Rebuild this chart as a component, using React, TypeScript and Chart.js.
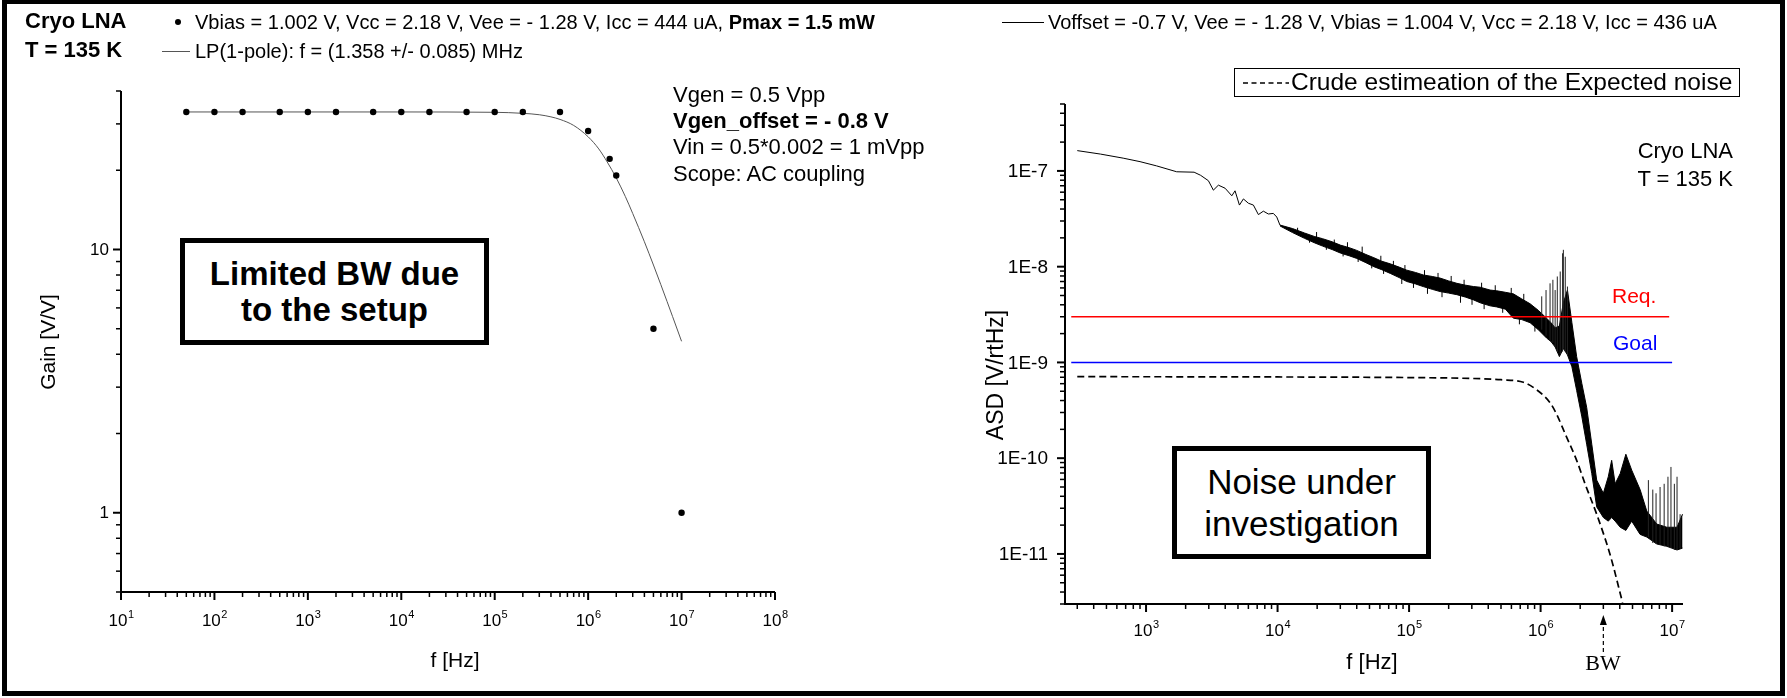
import React, { useEffect, useRef } from "react";
import { Chart, registerables } from "chart.js";

Chart.register(...registerables);

const W = 1787;
const H = 698;
const SANS = '"Liberation Sans", Arial, Helvetica, sans-serif';
const SERIF = '"Liberation Serif", "Times New Roman", serif';

// ---------------- Left chart (gain) ----------------
const gainFreq = [50, 100, 200, 500, 1e3, 2e3, 5e3, 1e4, 2e4, 5e4, 1e5, 2e5, 5e5, 1e6, 1.7e6, 2e6, 5e6, 1e7];
const gainVal = [33.3, 33.3, 33.3, 33.3, 33.3, 33.3, 33.3, 33.3, 33.3, 33.3, 33.3, 33.3, 33.3, 28.2, 22.1, 19.1, 5.0, 1.0];
const fitFreq = [50, 1e3, 1e4, 1e5, 2e5, 3e5, 4e5, 5e5, 7e5, 1e6, 1.3e6, 1.6e6, 2e6, 2.5e6, 3e6, 4e6, 5e6, 6e6, 7e6, 8e6, 1e7];
const fitVal = [33.3, 33.3, 33.3, 33.2, 32.9, 32.5, 31.9, 31.2, 29.6, 26.8, 24.1, 21.5, 18.7, 15.9, 13.7, 10.7, 8.73, 7.35, 6.34, 5.57, 4.48];
const gainXExps = [1, 2, 3, 4, 5, 6, 7, 8];
const gainYLabels = ["1", "10"];
const gainYLabelVals = [1, 10];

// ---------------- Right chart (noise ASD) ----------------
const noiseLowF = [300, 450, 670, 900, 1200, 1710, 2320, 2600, 2980, 3250, 3550, 3990, 4490, 4750, 5130, 5500, 6000, 6550, 7150, 7800, 8510, 9290, 9860, 10450];
const noiseLowV = [1.63e-7, 1.5e-7, 1.36e-7, 1.25e-7, 1.13e-7, 9.8e-8, 9.7e-8, 9.0e-8, 7.9e-8, 6.3e-8, 7.1e-8, 6.6e-8, 5.5e-8, 6.2e-8, 4.4e-8, 5.1e-8, 4.6e-8, 4.4e-8, 3.5e-8, 3.8e-8, 3.55e-8, 3.6e-8, 3.3e-8, 2.7e-8];

const bandFreq = [10.45e3, 13e3, 16e3, 19e3, 22e3, 26e3, 30e3, 35e3, 40e3, 47e3, 54e3, 62e3, 72e3, 84e3, 96e3, 112e3, 128e3, 150e3, 172e3, 200e3, 231e3, 270e3, 309e3, 347e3, 413e3, 464e3, 540e3, 621e3, 720e3, 832e3, 960e3, 1.11e6, 1.2e6, 1.29e6, 1.39e6, 1.49e6, 1.6e6, 1.73e6, 1.88e6, 2.06e6, 2.24e6, 2.45e6, 2.67e6, 3.0e6, 3.27e6, 3.47e6, 3.69e6, 4.03e6, 4.45e6, 4.93e6, 5.71e6, 6.42e6, 7.65e6, 9.12e6, 10.9e6, 12.0e6];
const bandUpper = [2.72e-8, 2.5e-8, 2.25e-8, 2.07e-8, 1.96e-8, 1.82e-8, 1.68e-8, 1.58e-8, 1.48e-8, 1.34e-8, 1.24e-8, 1.14e-8, 1.07e-8, 9.9e-9, 9.2e-9, 8.7e-9, 8.2e-9, 7.9e-9, 7.6e-9, 7.1e-9, 6.7e-9, 6.4e-9, 6.2e-9, 6.1e-9, 5.7e-9, 5.6e-9, 5.4e-9, 5.2e-9, 4.6e-9, 4.1e-9, 3.5e-9, 2.9e-9, 2.6e-9, 2.3e-9, 2.4e-9, 4.2e-9, 5.7e-9, 2.6e-9, 1.15e-9, 6.0e-10, 3.4e-10, 1.4e-10, 5.9e-11, 4.3e-11, 6.4e-11, 9.5e-11, 5.4e-11, 6.9e-11, 1.1e-10, 7.5e-11, 4.7e-11, 2.8e-11, 2.05e-11, 1.9e-11, 1.9e-11, 2.6e-11];
const bandLower = [2.66e-8, 2.27e-8, 1.98e-8, 1.78e-8, 1.64e-8, 1.51e-8, 1.39e-8, 1.3e-8, 1.22e-8, 1.1e-8, 1.0e-8, 9.3e-9, 8.5e-9, 7.7e-9, 7.0e-9, 6.6e-9, 6.2e-9, 5.8e-9, 5.5e-9, 5.3e-9, 5.1e-9, 4.8e-9, 4.5e-9, 4.2e-9, 3.9e-9, 3.8e-9, 3.6e-9, 2.9e-9, 2.8e-9, 2.6e-9, 2.2e-9, 1.8e-9, 1.65e-9, 1.45e-9, 1.15e-9, 1.4e-9, 1.2e-9, 9.0e-10, 5.1e-10, 2.7e-10, 1.4e-10, 6.9e-11, 3.1e-11, 2.4e-11, 2.2e-11, 2.4e-11, 2.2e-11, 1.9e-11, 1.76e-11, 2.2e-11, 1.6e-11, 1.5e-11, 1.27e-11, 1.2e-11, 1.1e-11, 1.15e-11];

// short noise marks sticking out of the band edges (irregular, as seen in the trace)
const grassFreq = [14.2e3, 17.5e3, 19.8e3, 23.5e3, 27e3, 31.5e3, 34e3, 41e3, 44e3, 52e3, 61e3, 64e3, 76e3, 88e3, 93e3, 108e3, 131e3, 138e3, 166e3, 178e3, 209e3, 246e3, 262e3, 301e3, 356e3, 372e3, 452e3, 515e3, 598e3, 690e3, 745e3, 905e3];
const grassLo = [2.2e-8, 1.78e-8, 1.9e-8, 1.5e-8, 1.6e-8, 1.28e-8, 1.45e-8, 1.12e-8, 1.3e-8, 9.6e-9, 1.05e-8, 8.4e-9, 9.5e-9, 6.6e-9, 8.5e-9, 6.0e-9, 7.5e-9, 5.2e-9, 7.0e-9, 4.8e-9, 6.4e-9, 4.2e-9, 6.0e-9, 4.0e-9, 5.5e-9, 3.6e-9, 5.1e-9, 3.3e-9, 4.8e-9, 2.5e-9, 4.2e-9, 2.1e-9];
const grassHi = [2.55e-8, 2.0e-8, 2.3e-8, 1.7e-8, 1.92e-8, 1.5e-8, 1.8e-8, 1.3e-8, 1.62e-8, 1.15e-8, 1.3e-8, 1.0e-8, 1.15e-8, 8.5e-9, 1.04e-8, 7.5e-9, 9.2e-9, 7.0e-9, 8.6e-9, 6.0e-9, 8.0e-9, 5.6e-9, 7.3e-9, 5.0e-9, 6.8e-9, 4.6e-9, 6.4e-9, 4.2e-9, 6.0e-9, 3.2e-9, 5.2e-9, 2.8e-9];

const spikeFreq = [1.02e6, 1.10e6, 1.18e6, 1.24e6, 1.29e6, 1.34e6, 1.41e6, 1.47e6, 1.49e6, 1.54e6, 1.60e6, 6.6e6, 7.13e6, 7.55e6, 8.1e6, 8.7e6, 9.3e6, 9.8e6, 10.4e6, 10.9e6, 11.5e6];
const spikeTop = [4.9e-9, 5.7e-9, 6.7e-9, 7.3e-9, 5.7e-9, 7.9e-9, 8.9e-9, 1.38e-8, 1.5e-8, 1.27e-8, 6.2e-9, 5.9e-11, 4.7e-11, 4.3e-11, 5.0e-11, 5.4e-11, 6.4e-11, 8.1e-11, 5.4e-11, 6.4e-11, 2.6e-11];
const spikeBase = [2.2e-9, 1.9e-9, 1.7e-9, 1.6e-9, 1.45e-9, 1.3e-9, 1.2e-9, 1.3e-9, 1.4e-9, 1.3e-9, 1.2e-9, 1.5e-11, 1.3e-11, 1.27e-11, 1.25e-11, 1.2e-11, 1.2e-11, 1.15e-11, 1.1e-11, 1.1e-11, 1.15e-11];

const expF = [300, 1e4, 1e5, 3e5, 5e5, 7.4e5, 9.3e5, 1.18e6, 1.32e6, 1.55e6, 1.88e6, 2.2e6, 2.67e6, 3.4e6, 4.2e6];
const expV = [7.1e-10, 7.05e-10, 6.95e-10, 6.8e-10, 6.6e-10, 6.2e-10, 5.2e-10, 3.8e-10, 2.9e-10, 1.75e-10, 9.5e-11, 5.2e-11, 2.6e-11, 9.5e-12, 3.1e-12];

const reqF = [270, 9.5e6];
const reqV = [3e-9, 3e-9];
const goalF = [270, 1.0e7];
const goalV = [1e-9, 1e-9];

const asdXExps = [3, 4, 5, 6, 7];
const asdYLabels = ["1E-7", "1E-8", "1E-9", "1E-10", "1E-11"];
const asdYLabelVals = [1e-7, 1e-8, 1e-9, 1e-10, 1e-11];
const bwFreq = 3e6;

const pts = (xs: number[], ys: number[]) => xs.map((x, i) => ({ x, y: ys[i] }));
const segs = (xs: number[], a: number[], b: number[]) => {
  const out: any[] = [];
  xs.forEach((x, i) => out.push({ x, y: a[i] }, { x, y: b[i] }, { x, y: null }));
  return out;
};

const axesPlugin = {
  id: "logAxes",
  afterDraw(chart: any, _args: any, o: any) {
    const { ctx, chartArea: a } = chart;
    const xs = chart.scales.x;
    const ys = chart.scales.y;
    ctx.save();
    ctx.strokeStyle = "#000";
    ctx.fillStyle = "#000";
    const each = (min: number, max: number, fn: (v: number, m: number) => void) => {
      const e0 = Math.floor(Math.log10(min));
      const e1 = Math.ceil(Math.log10(max));
      for (let e = e0; e <= e1; e++) {
        for (let m = 1; m <= 9; m++) {
          const v = Number(`${m}e${e}`);
          if (v < min * 0.9999 || v > max * 1.0001) continue;
          fn(v, m);
        }
      }
    };
    each(xs.min, xs.max, (v, m) => {
      const px = xs.getPixelForValue(v);
      ctx.lineWidth = m === 1 ? 2 : 1.5;
      ctx.beginPath();
      ctx.moveTo(px, a.bottom);
      ctx.lineTo(px, a.bottom + (m === 1 ? o.major : o.minor));
      ctx.stroke();
    });
    each(ys.min, ys.max, (v, m) => {
      const py = ys.getPixelForValue(v);
      ctx.lineWidth = m === 1 ? 2 : 1.5;
      ctx.beginPath();
      ctx.moveTo(a.left, py);
      ctx.lineTo(a.left - (m === 1 ? o.major : o.minor), py);
      ctx.stroke();
    });
    ctx.lineWidth = 2;
    ctx.beginPath();
    ctx.moveTo(a.left, a.top);
    ctx.lineTo(a.left, a.bottom);
    ctx.lineTo(a.right, a.bottom);
    ctx.stroke();
    ctx.textBaseline = "alphabetic";
    ctx.textAlign = "left";
    o.xExps.forEach((e: number) => {
      const px = xs.getPixelForValue(Number(`1e${e}`));
      ctx.font = `${o.xFont}px ${SANS}`;
      const w1 = ctx.measureText("10").width;
      ctx.font = `${o.supFont}px ${SANS}`;
      const w2 = ctx.measureText(String(e)).width;
      const x0 = px - (w1 + w2) / 2;
      ctx.font = `${o.xFont}px ${SANS}`;
      ctx.fillText("10", x0, o.xBase);
      ctx.font = `${o.supFont}px ${SANS}`;
      ctx.fillText(String(e), x0 + w1 + 0.5, o.xBase - o.xFont * 0.45);
    });
    ctx.textAlign = "right";
    ctx.textBaseline = "middle";
    ctx.font = `${o.yFont}px ${SANS}`;
    o.yVals.forEach((v: number, i: number) => {
      ctx.fillText(o.yLabels[i], a.left - o.yGap, ys.getPixelForValue(v) + 1);
    });
    if (o.arrow) {
      const px = xs.getPixelForValue(o.arrow.f);
      ctx.lineWidth = 1.2;
      ctx.setLineDash([4, 3]);
      ctx.beginPath();
      ctx.moveTo(px, o.arrow.y1);
      ctx.lineTo(px, o.arrow.y2 + 8);
      ctx.stroke();
      ctx.setLineDash([]);
      ctx.beginPath();
      ctx.moveTo(px, o.arrow.y2);
      ctx.lineTo(px - 3.5, o.arrow.y2 + 10);
      ctx.lineTo(px + 3.5, o.arrow.y2 + 10);
      ctx.closePath();
      ctx.fill();
    }
    ctx.restore();
  },
};

function baseScales(xmin: number, xmax: number, ymin: number, ymax: number, yw: number, xh: number) {
  return {
    x: {
      type: "logarithmic",
      min: xmin,
      max: xmax,
      grid: { display: false },
      border: { display: false },
      ticks: { display: false },
      afterFit: (s: any) => {
        s.height = xh;
      },
    },
    y: {
      type: "logarithmic",
      min: ymin,
      max: ymax,
      grid: { display: false },
      border: { display: false },
      ticks: { display: false },
      afterFit: (s: any) => {
        s.width = yw;
      },
    },
  };
}

const T = ({ x, y, size, bold, color, align, family, children }: any) => {
  const tr = align === "right" ? "translateX(-100%)" : align === "center" ? "translateX(-50%)" : "none";
  return (
    <div
      style={{
        position: "absolute",
        left: x,
        top: y - 0.846 * size,
        fontSize: size,
        lineHeight: `${size}px`,
        fontFamily: family || SANS,
        fontWeight: bold ? "bold" : "normal",
        color: color || "#000",
        whiteSpace: "nowrap",
        transform: tr,
      }}
    >
      {children}
    </div>
  );
};

export default function App() {
  const leftRef = useRef<HTMLCanvasElement>(null);
  const rightRef = useRef<HTMLCanvasElement>(null);

  useEffect(() => {
    const left = new Chart(leftRef.current as HTMLCanvasElement, {
      type: "scatter",
      data: {
        datasets: [
          {
            data: pts(gainFreq, gainVal),
            showLine: false,
            pointRadius: 3.2,
            pointBackgroundColor: "#000",
            pointBorderColor: "#000",
            pointBorderWidth: 0,
          },
          {
            data: pts(fitFreq, fitVal),
            showLine: true,
            borderColor: "#555",
            borderWidth: 1,
            pointRadius: 0,
            cubicInterpolationMode: "monotone",
          },
        ],
      } as any,
      options: {
        responsive: false,
        animation: false,
        devicePixelRatio: 1,
        layout: { padding: { left: 0, top: 91, right: W - 775, bottom: 0 } },
        plugins: { legend: { display: false }, tooltip: { enabled: false }, logAxes: { major: 8, minor: 5, xExps: gainXExps, xFont: 17, supFont: 11, xBase: 626, yFont: 17, yGap: 12, yVals: gainYLabelVals, yLabels: gainYLabels } } as any,
        scales: baseScales(10, 1e8, 0.5, 40, 121, H - 592) as any,
      },
      plugins: [axesPlugin],
    });

    const right = new Chart(rightRef.current as HTMLCanvasElement, {
      type: "scatter",
      data: {
        datasets: [
          { data: pts(reqF, reqV), showLine: true, borderColor: "#ff0000", borderWidth: 1.5, pointRadius: 0 },
          { data: pts(goalF, goalV), showLine: true, borderColor: "#0000ff", borderWidth: 1.5, pointRadius: 0 },
          { data: pts(expF, expV), showLine: true, borderColor: "#000", borderWidth: 1.7, borderDash: [7, 4], pointRadius: 0, cubicInterpolationMode: "monotone" },
          { data: segs(spikeFreq, spikeBase, spikeTop), showLine: true, spanGaps: false, borderColor: "#222", borderWidth: 1, pointRadius: 0 },
          { data: segs(grassFreq, grassLo, grassHi), showLine: true, spanGaps: false, borderColor: "#000", borderWidth: 1, pointRadius: 0 },
          { data: pts(noiseLowF, noiseLowV), showLine: true, borderColor: "#000", borderWidth: 1, pointRadius: 0 },
          { data: pts(bandFreq, bandLower), showLine: true, borderColor: "#000", borderWidth: 1, pointRadius: 0, fill: false },
          { data: pts(bandFreq, bandUpper), showLine: true, borderColor: "#000", borderWidth: 1, pointRadius: 0, fill: "-1", backgroundColor: "#000" },
        ],
      } as any,
      options: {
        responsive: false,
        animation: false,
        devicePixelRatio: 1,
        layout: { padding: { left: 1060, top: 104, right: W - 1683, bottom: 0 } },
        plugins: {
          legend: { display: false },
          tooltip: { enabled: false },
          logAxes: { major: 8, minor: 5, xExps: asdXExps, xFont: 17, supFont: 11, xBase: 636, yFont: 19, yGap: 17, yVals: asdYLabelVals, yLabels: asdYLabels, arrow: { f: bwFreq, y1: 652, y2: 615 } },
        } as any,
        scales: baseScales(242, 1.21e7, 3e-12, 5e-7, 5, H - 604) as any,
      },
      plugins: [axesPlugin],
    });
    return () => {
      left.destroy();
      right.destroy();
    };
  }, []);

  const boxBase: any = {
    position: "absolute",
    border: "5px solid #000",
    boxSizing: "border-box",
    display: "flex",
    flexDirection: "column",
    alignItems: "center",
    justifyContent: "center",
    fontFamily: SANS,
    color: "#000",
    background: "#fff",
  };

  return (
    <div style={{ position: "fixed", left: 0, top: 0, width: W, height: H, background: "#fff", overflow: "hidden" }}>
      <canvas ref={leftRef} width={W} height={H} style={{ position: "absolute", left: 0, top: 0 }} />
      <canvas ref={rightRef} width={W} height={H} style={{ position: "absolute", left: 0, top: 0 }} />

      <div style={{ position: "absolute", left: 2, top: -1, width: 1783, height: 697, border: "5px solid #000", boxSizing: "border-box" }} />

      <T x={25} y={29} size={22} bold>Cryo LNA</T>
      <T x={25} y={58} size={22} bold>T = 135 K</T>
      <div style={{ position: "absolute", left: 175, top: 19, width: 6, height: 6, borderRadius: 3, background: "#000" }} />
      <T x={195} y={29} size={20}>
        Vbias = 1.002 V, Vcc = 2.18 V, Vee = - 1.28 V, Icc = 444 uA, <b>Pmax = 1.5 mW</b>
      </T>
      <div style={{ position: "absolute", left: 162, top: 51, width: 28, height: 1, background: "#555" }} />
      <T x={195} y={58} size={20}>LP(1-pole): f = (1.358 +/- 0.085) MHz</T>

      <T x={673} y={103} size={22}>Vgen = 0.5 Vpp</T>
      <T x={673} y={129} size={22} bold>Vgen_offset = - 0.8 V</T>
      <T x={673} y={155} size={22}>Vin = 0.5*0.002 = 1 mVpp</T>
      <T x={673} y={182} size={22}>Scope: AC coupling</T>

      <div style={{ ...boxBase, left: 180, top: 238, width: 309, height: 107, fontWeight: "bold", fontSize: 33, lineHeight: "36px" }}>
        <div>Limited BW due</div>
        <div>to the setup</div>
      </div>

      <div style={{ position: "absolute", left: 48, top: 342, transform: "translate(-50%, -50%) rotate(-90deg)", fontFamily: SANS, fontSize: 21, whiteSpace: "nowrap" }}>Gain [V/V]</div>
      <div style={{ position: "absolute", left: 455, top: 660, transform: "translate(-50%, -50%)", fontFamily: SANS, fontSize: 21, whiteSpace: "nowrap" }}>f [Hz]</div>

      <div style={{ position: "absolute", left: 1002, top: 22, width: 42, height: 1, background: "#000" }} />
      <T x={1048} y={29} size={20}>Voffset = -0.7 V, Vee = - 1.28 V, Vbias = 1.004 V, Vcc = 2.18 V, Icc = 436 uA</T>

      <div style={{ position: "absolute", left: 1234, top: 68, width: 506, height: 29, border: "1px solid #000", boxSizing: "border-box", background: "#fff" }}>
        <svg width={50} height={27} style={{ position: "absolute", left: 6, top: 0 }}>
          <line x1={2} y1={14} x2={48} y2={14} stroke="#000" strokeWidth={1.3} strokeDasharray="5 3.5" />
        </svg>
        <T x={56} y={22} size={24.5}>Crude estimeation of the Expected noise</T>
      </div>

      <T x={1733} y={159} size={22} align="right">Cryo LNA</T>
      <T x={1733} y={187} size={22} align="right">T = 135 K</T>
      <T x={1612} y={303} size={21} color="#ff0000">Req.</T>
      <T x={1613} y={350} size={21} color="#0000ff">Goal</T>

      <div style={{ ...boxBase, left: 1172, top: 446, width: 259, height: 113, fontSize: 35, lineHeight: "42px" }}>
        <div>Noise under</div>
        <div>investigation</div>
      </div>

      <div style={{ position: "absolute", left: 995, top: 375, transform: "translate(-50%, -50%) rotate(-90deg)", fontFamily: SANS, fontSize: 23, whiteSpace: "nowrap" }}>ASD [V/rtHz]</div>
      <div style={{ position: "absolute", left: 1372, top: 662, transform: "translate(-50%, -50%)", fontFamily: SANS, fontSize: 22, whiteSpace: "nowrap" }}>f [Hz]</div>
      <T x={1603} y={671} size={22} align="center" family={SERIF}>BW</T>
    </div>
  );
}
